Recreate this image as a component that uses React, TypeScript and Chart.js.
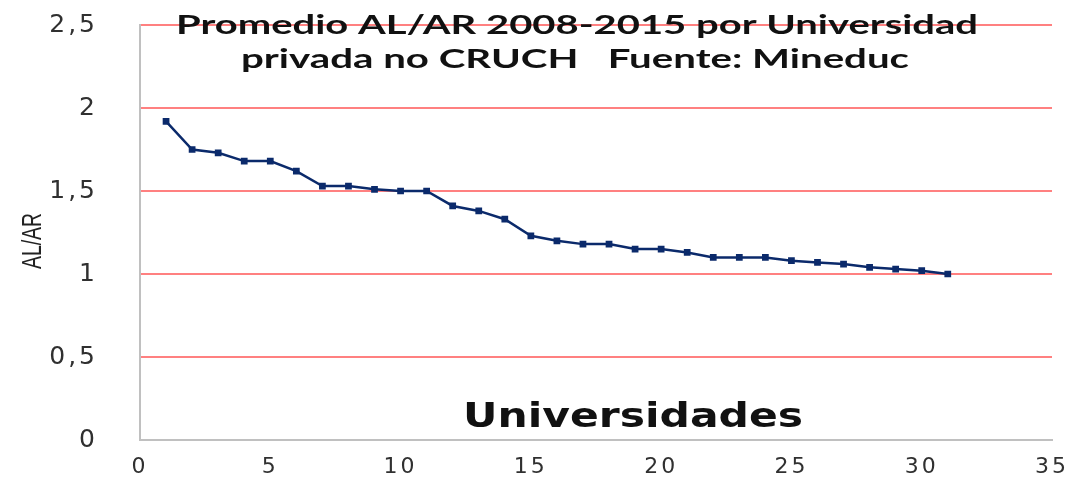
import React, { useEffect, useRef } from "react";
import { Chart, registerables } from "chart.js";

Chart.register(...registerables);

const universidades = [
  1, 2, 3, 4, 5, 6, 7, 8, 9, 10, 11, 12, 13, 14, 15, 16, 17, 18, 19, 20, 21, 22,
  23, 24, 25, 26, 27, 28, 29, 30, 31,
];
const promedioALAR = [
  1.92, 1.75, 1.73, 1.68, 1.68, 1.62, 1.53, 1.53, 1.51, 1.5, 1.5, 1.41, 1.38,
  1.33, 1.23, 1.2, 1.18, 1.18, 1.15, 1.15, 1.13, 1.1, 1.1, 1.1, 1.08, 1.07,
  1.06, 1.04, 1.03, 1.02, 1.0,
];
const xTickValues = [0, 5, 10, 15, 20, 25, 30, 35];
const yTickValues = [0, 0.5, 1, 1.5, 2, 2.5];
const titleLines = [
  "Promedio AL/AR 2008-2015 por Universidad",
  "privada no CRUCH   Fuente: Mineduc",
];
const xAxisTitle = "Universidades";
const yAxisTitle = "AL/AR";

function drawStretched(
  ctx: CanvasRenderingContext2D,
  text: string,
  cx: number,
  baseY: number,
  font: string,
  targetWidth: number,
  rotate = 0,
  color = "#111111"
) {
  ctx.save();
  (ctx as any).letterSpacing = "0px";
  ctx.font = font;
  const w = ctx.measureText(text).width;
  const sx = targetWidth / w;
  ctx.translate(cx, baseY);
  if (rotate) ctx.rotate(rotate);
  ctx.scale(sx, 1);
  ctx.textAlign = "center";
  ctx.textBaseline = "alphabetic";
  ctx.fillStyle = color;
  ctx.fillText(text, 0, 0);
  ctx.restore();
}

const spacingPlugin = {
  id: "spacingPlugin",
  beforeDraw(chart: any) {
    (chart.ctx as any).letterSpacing = "3px";
  },
  beforeDatasetsDraw(chart: any) {
    (chart.ctx as any).letterSpacing = "0px";
  },
};

const textPlugin = {
  id: "textPlugin",
  afterDraw(chart: any) {
    const ctx = chart.ctx as CanvasRenderingContext2D;
    drawStretched(ctx, titleLines[0], 577, 34, "bold 26px Lato", 802);
    drawStretched(ctx, titleLines[1], 575, 68, "bold 26px Lato", 668);
    drawStretched(ctx, xAxisTitle, 633, 427, "bold 34px 'DejaVu Sans'", 340);
    drawStretched(ctx, yAxisTitle, 41, 241, "27px 'Liberation Sans'", 56, -Math.PI / 2, "#222222");
  },
};

const zeroPad = (s: any) => {
  s.paddingTop = 0;
  s.paddingBottom = 0;
  s.paddingLeft = 0;
  s.paddingRight = 0;
};

export default function App() {
  const ref = useRef<HTMLCanvasElement | null>(null);

  useEffect(() => {
    if (!ref.current) return;
    const lineColor = "#0b2a6b";
    const chart = new Chart(ref.current, {
      type: "line",
      data: {
        datasets: [
          {
            data: universidades.map((x, i) => ({ x, y: promedioALAR[i] })),
            borderColor: lineColor,
            backgroundColor: lineColor,
            borderWidth: 2.5,
            pointStyle: "rect",
            pointRadius: 3,
            pointBackgroundColor: lineColor,
            pointBorderColor: lineColor,
            tension: 0,
          },
        ],
      },
      options: {
        animation: false,
        responsive: false,
        maintainAspectRatio: false,
        layout: { padding: { top: 25, right: 24, left: 0, bottom: 0 } },
        plugins: {
          legend: { display: false },
          title: { display: false },
          tooltip: { enabled: false },
        },
        scales: {
          x: {
            type: "linear",
            min: 0,
            max: 35,
            afterFit: (s: any) => {
              s.height = 43;
              zeroPad(s);
            },
            afterBuildTicks: (s: any) => {
              s.ticks = xTickValues.map((v) => ({ value: v }));
            },
            ticks: {
              padding: 14,
              color: "#303030",
              font: { family: "'DejaVu Sans'", size: 22 },
              maxRotation: 0,
              autoSkip: false,
            },
            grid: { display: true, color: "transparent", drawTicks: false },
            border: { display: true, color: "#c0c0c0", width: 2 },
          },
          y: {
            type: "linear",
            min: 0,
            max: 2.5,
            afterFit: (s: any) => {
              s.width = 140;
              zeroPad(s);
            },
            afterBuildTicks: (s: any) => {
              s.ticks = yTickValues.map((v) => ({ value: v }));
            },
            ticks: {
              padding: 42,
              color: "#303030",
              font: { family: "'DejaVu Sans'", size: 25 },
              callback: (v: any) => String(v).replace(".", ","),
              autoSkip: false,
            },
            grid: {
              color: (c: any) => (c.tick && c.tick.value === 0 ? "transparent" : "#ff8080"),
              lineWidth: 2,
              drawTicks: false,
            },
            border: { display: true, color: "#c0c0c0", width: 2 },
          },
        },
      },
      plugins: [spacingPlugin, textPlugin],
    });
    return () => chart.destroy();
  }, []);

  return (
    <div style={{ position: "absolute", left: 0, top: 0, width: 1076, height: 483, background: "#fff" }}>
      <canvas ref={ref} width={1076} height={483} style={{ width: 1076, height: 483 }} />
    </div>
  );
}
